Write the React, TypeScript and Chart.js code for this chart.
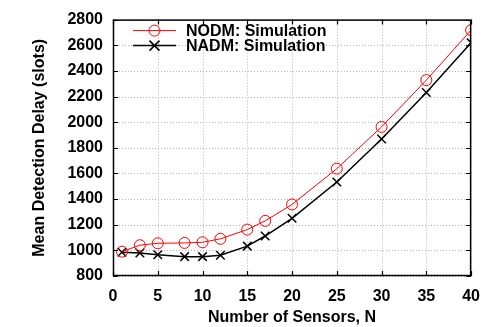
import React, { useEffect, useRef } from "react";
import { Chart, registerables } from "chart.js";

Chart.register(...registerables);

const sensors = [1, 3, 5, 8, 10, 12, 15, 17, 20, 25, 30, 35, 40];
const nodm = [990, 1040, 1055, 1058, 1063, 1090, 1162, 1230, 1358, 1637, 1963, 2328, 2718];
const nadm = [985, 980, 966, 951, 951, 962, 1033, 1112, 1250, 1533, 1868, 2232, 2620];
const seriesNames = ["NODM: Simulation", "NADM: Simulation"];
const xTitle = "Number of Sensors, N";
const yTitle = "Mean Detection Delay (slots)";

const FONT = "'Liberation Sans', Arial, Helvetica, sans-serif";

const gridPlugin = {
  id: "dottedGrid",
  beforeDatasetsDraw(chart: any) {
    const { ctx, chartArea } = chart;
    const { left, right, top, bottom } = chartArea;
    const xs = chart.scales.x;
    const ys = chart.scales.y;
    ctx.save();
    ctx.strokeStyle = "#b4b4b4";
    ctx.lineWidth = 1;
    ctx.setLineDash([1, 2]);
    ctx.beginPath();
    xs.ticks.forEach((t: any) => {
      const px = Math.round(xs.getPixelForValue(t.value)) + 0.5;
      ctx.moveTo(px, top);
      ctx.lineTo(px, bottom);
    });
    ys.ticks.forEach((t: any) => {
      const py = Math.round(ys.getPixelForValue(t.value)) + 0.5;
      ctx.moveTo(left, py);
      ctx.lineTo(right, py);
    });
    ctx.stroke();
    ctx.restore();
  },
};

const boxPlugin = {
  id: "boxAndLegend",
  afterDatasetsDraw(chart: any) {
    const { ctx, chartArea } = chart;
    const { left, right, top, bottom } = chartArea;
    ctx.save();
    ctx.strokeStyle = "#000";
    ctx.lineWidth = 1.5;
    ctx.strokeRect(left + 0.5, top + 0.5, right - left - 1, bottom - top - 1);
    // inward ticks
    const xs = chart.scales.x;
    const ys = chart.scales.y;
    const tl = 5;
    ctx.lineWidth = 1.2;
    ctx.beginPath();
    xs.ticks.forEach((t: any) => {
      const px = Math.round(xs.getPixelForValue(t.value)) + 0.5;
      ctx.moveTo(px, bottom);
      ctx.lineTo(px, bottom - tl);
      ctx.moveTo(px, top);
      ctx.lineTo(px, top + tl);
    });
    ys.ticks.forEach((t: any) => {
      const py = Math.round(ys.getPixelForValue(t.value)) + 0.5;
      ctx.moveTo(left, py);
      ctx.lineTo(left + tl, py);
      ctx.moveTo(right, py);
      ctx.lineTo(right - tl, py);
    });
    ctx.stroke();

    // legend
    const x0 = left + 20;
    const x1 = left + 63;
    const xm = (x0 + x1) / 2;
    const rows = [
      { y: top + 11, color: "#ff0000", lw: 1, marker: "circle", label: seriesNames[0] },
      { y: top + 26, color: "#000000", lw: 1.5, marker: "cross", label: seriesNames[1] },
    ];
    ctx.font = `bold 16px ${FONT}`;
    ctx.textBaseline = "middle";
    ctx.textAlign = "left";
    rows.forEach((r) => {
      ctx.strokeStyle = r.color;
      ctx.lineWidth = r.lw;
      ctx.beginPath();
      ctx.moveTo(x0, r.y);
      ctx.lineTo(x1, r.y);
      ctx.stroke();
      ctx.beginPath();
      if (r.marker === "circle") {
        ctx.arc(xm, r.y, 5.5, 0, Math.PI * 2);
      } else {
        const s = 5;
        ctx.moveTo(xm - s, r.y - s);
        ctx.lineTo(xm + s, r.y + s);
        ctx.moveTo(xm - s, r.y + s);
        ctx.lineTo(xm + s, r.y - s);
      }
      ctx.stroke();
      ctx.fillStyle = "#000";
      ctx.fillText(r.label, x1 + 10, r.y + 1);
    });
    ctx.restore();
  },
};

export default function App() {
  const ref = useRef<HTMLCanvasElement | null>(null);
  useEffect(() => {
    document.body.style.margin = "0";
    const canvas = ref.current;
    if (!canvas) return;
    const chart = new Chart(canvas, {
      type: "line",
      data: {
        datasets: [
          {
            label: seriesNames[0],
            data: sensors.map((x, i) => ({ x, y: nodm[i] })),
            borderColor: "#ff0000",
            backgroundColor: "rgba(0,0,0,0)",
            borderWidth: 1,
            pointStyle: "circle",
            pointRadius: 5.5,
            pointBorderWidth: 1,
            pointBorderColor: "#ff0000",
            pointBackgroundColor: "rgba(0,0,0,0)",
            tension: 0,
          },
          {
            label: seriesNames[1],
            data: sensors.map((x, i) => ({ x, y: nadm[i] })),
            borderColor: "#000000",
            backgroundColor: "rgba(0,0,0,0)",
            borderWidth: 1.5,
            pointStyle: "crossRot",
            pointRadius: 6,
            pointBorderWidth: 1.5,
            pointBorderColor: "#000000",
            tension: 0,
          },
        ],
      },
      options: {
        animation: false,
        responsive: false,
        maintainAspectRatio: false,
        layout: { padding: { top: 19, right: 18, left: 0, bottom: 0 } },
        plugins: { legend: { display: false }, tooltip: { enabled: false } },
        scales: {
          x: {
            type: "linear",
            min: 0,
            max: 40,
            afterFit: (s: any) => {
              s.height = 51;
            },
            ticks: {
              stepSize: 5,
              color: "#000",
              padding: 11,
              maxRotation: 0,
              callback: (v: any) => String(v),
              font: { family: FONT, size: 16, weight: "bold" },
            },
            grid: { display: false, drawTicks: false },
            border: { display: false },
            title: {
              display: true,
              text: xTitle,
              color: "#000",
              padding: { top: 0, bottom: 0 },
              font: { family: FONT, size: 16, weight: "bold" },
            },
          },
          y: {
            type: "linear",
            min: 800,
            max: 2800,
            afterFit: (s: any) => {
              s.width = 113;
            },
            ticks: {
              stepSize: 200,
              color: "#000",
              padding: 10,
              callback: (v: any) => String(v),
              font: { family: FONT, size: 16, weight: "bold" },
            },
            grid: { display: false, drawTicks: false },
            border: { display: false },
            title: {
              display: true,
              text: yTitle,
              color: "#000",
              padding: { top: 30, bottom: 0 },
              font: { family: FONT, size: 16, weight: "bold" },
            },
          },
        },
      },
      plugins: [gridPlugin, boxPlugin],
    });
    return () => chart.destroy();
  }, []);
  return (
    <div style={{ width: 491, height: 327, background: "#fff" }}>
      <canvas ref={ref} width={491} height={327} style={{ display: "block" }} />
    </div>
  );
}
